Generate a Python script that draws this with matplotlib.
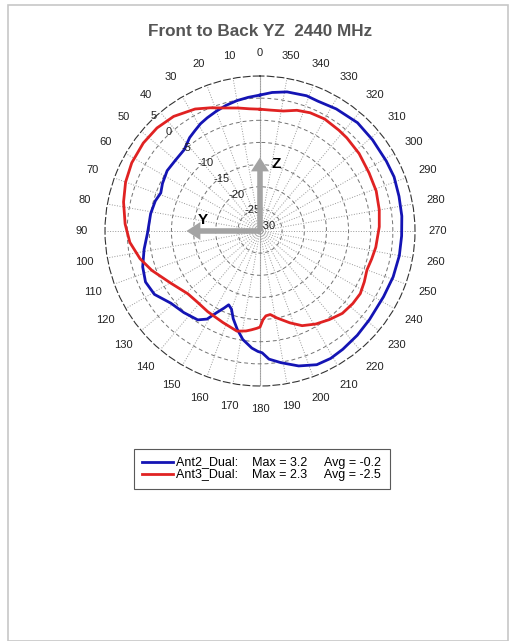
import numpy as np
import matplotlib
matplotlib.use('Agg')
import matplotlib.pyplot as plt
from matplotlib.patches import Rectangle

plt.rcParams['font.family'] = ['Liberation Sans', 'DejaVu Sans']

# gain pattern (angle in deg, gain in dB)
ant2_deg = [0, 5, 10, 15, 20, 25, 29, 33, 37, 43, 50, 57, 64, 69, 74, 81, 91, 99, 107, 114,
            121, 129, 137, 145, 149, 152, 155, 157, 160, 163, 167, 171, 176, 179, 181, 184, 189, 196, 203, 209,
            215, 223, 231, 242, 251, 260, 268, 276, 284, 292, 299, 309, 318, 328, 336, 341, 349, 355]
ant2_db = [0.7, 0.3, -0.1, -0.6, -1.2, -1.8, -2.3, -3.0, -3.6, -4.9, -5.1, -5.0, -5.5, -6.0, -5.4, -5.0, -4.6, -3.5, -2.3, -1.7,
           -2.2, -4.1, -4.8, -5.5, -6.8, -9.1, -10.8, -11.9, -11.2, -9.3, -7.2, -5.2, -3.5, -2.8, -2.5, -1.0, 0.1, 1.7, 2.8, 2.9,
           2.6, 2.2, 1.8, 1.6, 1.8, 1.95, 2.0, 2.2, 2.35, 2.65, 2.6, 2.7, 2.9, 2.5, 2.1, 2.3, 2.0, 1.4]

ant3_deg = [0, 5, 10, 16, 22, 28, 37, 45, 53, 62, 70, 78, 87, 95, 103, 110, 120, 131, 139, 147,
            158, 167, 172, 175, 178, 180, 182, 184, 187, 191, 198, 204, 211, 218, 225, 232, 238, 244, 250, 256,
            262, 272, 280, 289, 298, 308, 317, 322, 330, 337, 343, 349, 355]
ant3_db = [-2.5, -2.3, -1.8, -1.1, 0.0, 1.2, 2.4, 2.9, 3.0, 2.8, 2.3, 1.5, 0.5, -0.5, -2.2, -4.0, -6.6, -8.4, -8.6, -8.3,
           -7.7, -6.8, -7.2, -7.6, -8.0, -8.3, -10.0, -10.8, -11.0, -10.0, -8.2, -6.6, -5.5, -4.6, -3.7, -3.4, -3.3, -3.8, -4.3, -4.0,
           -3.6, -3.05, -2.65, -2.25, -2.1, -1.6, -1.25, -1.1, -0.8, -1.0, -1.5, -2.4, -2.6]

labels = ['Ant2_Dual:    Max = 3.2     Avg = -0.2',
          'Ant3_Dual:    Max = 2.3     Avg = -2.5']
ring_db = [5, 0, -5, -10, -15, -20, -25, -30]
angle_ticks = list(range(0, 360, 10))

fig = plt.figure(figsize=(5.10, 6.41), dpi=100)
ax = fig.add_axes([105 / 510, 1 - 386 / 641, 310 / 510, 310 / 641], projection='polar')
ax.set_theta_zero_location('N')
ax.set_theta_direction(1)
ax.set_rlim(-30, 5)
ax.set_rticks([-25, -20, -15, -10, -5, 0])
ax.set_xticks(np.deg2rad(angle_ticks))
ax.set_xticklabels([])
ax.set_yticklabels([])
ax.xaxis.grid(True, linestyle=':', color='0.6', lw=0.7)
ax.yaxis.grid(True, linestyle=(0, (4, 3)), color='0.45', lw=0.7)
ax.spines['polar'].set_linestyle((0, (6, 3)))
ax.spines['polar'].set_color('0.2')
ax.spines['polar'].set_linewidth(0.8)

# solid vertical axis line
ax.plot([0, 0], [-30, 5], color='0.7', lw=0.8, zorder=1)
ax.plot([np.pi, np.pi], [-30, 5], color='0.7', lw=0.8, zorder=1)

th2 = np.deg2rad(ant2_deg + [360])
th3 = np.deg2rad(ant3_deg + [360])
l2, = ax.plot(th2, ant2_db + [ant2_db[0]], color='#1414b4', lw=2, zorder=3)
l3, = ax.plot(th3, ant3_db + [ant3_db[0]], color='#e02222', lw=2, zorder=3)

# angle labels round the outside
for a in angle_ticks:
    ax.text(np.deg2rad(a), 10.2, str(a), ha='center', va='center', fontsize=8, color='#222222')

# radial labels along 45 deg
for r in ring_db:
    ax.text(np.deg2rad(45), r, str(r), ha='left', va='bottom', fontsize=8, color='#222222', zorder=4)

# Y / Z arrows
arrow = dict(facecolor='#a3a3a3', edgecolor='none', width=4, headwidth=13, headlength=10, shrink=0)
ax.annotate('', xy=(0, -13.4), xytext=(0, -30), arrowprops=arrow, zorder=6)
ax.annotate('', xy=(np.pi / 2, -13.4), xytext=(np.pi / 2, -30), arrowprops=arrow, zorder=6)
fig.text(276 / 510, 1 - 164 / 641, 'Z', ha='center', va='center', fontsize=11, fontweight='bold')
fig.text(203 / 510, 1 - 220 / 641, 'Y', ha='center', va='center', fontsize=11, fontweight='bold')

fig.text(260.5 / 510, 1 - 32 / 641, 'Front to Back YZ  2440 MHz', ha='center', va='center',
         fontsize=12.3, fontweight='bold', color='#555555')

leg = fig.legend([l2, l3], labels, loc='upper left', bbox_to_anchor=(134 / 510, 1 - 449 / 641),
                 fontsize=9, handlelength=2.45, handletextpad=0.3, borderpad=0.65, labelspacing=0.0,
                 fancybox=False, framealpha=1, edgecolor='0.35', borderaxespad=0)
leg.get_frame().set_linewidth(0.8)

# page border
fig.add_artist(Rectangle((8 / 510, 0), 500 / 510, 1 - 5 / 641, transform=fig.transFigure,
                         fill=False, edgecolor='0.78', lw=1.2))

fig.savefig('out.png', dpi=100)
